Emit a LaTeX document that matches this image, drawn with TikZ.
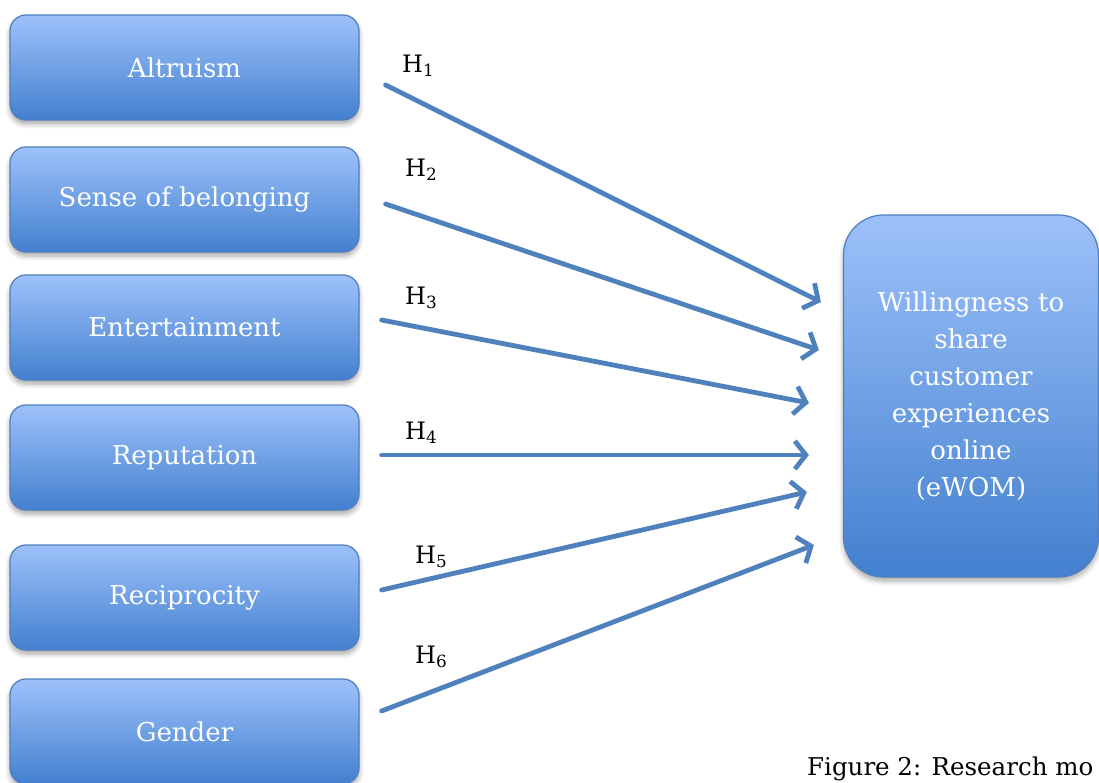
\documentclass[tikz,border=0pt]{standalone}
\usepackage{fontspec}
\setmainfont{DejaVu Serif}
\usetikzlibrary{arrows.meta,shadows.blur,calc}
\definecolor{btop}{HTML}{9DC1FA}
\definecolor{bmid}{HTML}{86ADEE}
\definecolor{bbot}{HTML}{4380CF}
\definecolor{bline}{HTML}{4F7FBE}
\definecolor{arrc}{HTML}{4F81BD}
\tikzset{
  factor/.style={rounded corners=16pt, draw=bline, line width=1.2pt,
    top color=btop, middle color=bmid, bottom color=bbot,
    minimum width=349pt, minimum height=105pt, text=white,
    font=\fontsize{26}{30}\selectfont,
    blur shadow={shadow xshift=0pt, shadow yshift=-4pt, shadow blur steps=6, shadow blur radius=5pt, shadow opacity=35}},
  outcome/.style={factor, rounded corners=40pt, minimum width=255pt, minimum height=362pt,
    text width=240pt, align=center, font=\fontsize{26}{37}\selectfont},
  hyp/.style={anchor=west, font=\fontsize{24}{28}\selectfont, inner sep=0pt},
  arr/.style={draw=arrc, line width=4.8pt, line cap=round, -{Straight Barb[length=11pt,width=28pt,line width=4.8pt]}},
}
\begin{document}
\begin{tikzpicture}[x=1pt,y=-1pt]
\useasboundingbox (0,0) rectangle (1099,783);
\clip (0,0) rectangle (1099,783);
\node[factor] (alt) at (184.5,67.5) {Altruism};
\node[factor] (sob) at (184.5,199.5) {Sense of belonging};
\node[factor] (ent) at (184.5,327.5) {Entertainment};
\node[factor] (rep) at (184.5,457.5) {Reputation};
\node[factor] (rec) at (184.5,597.5) {Reciprocity};
\node[factor] (gen) at (184.5,731.5) {Gender};
\node[outcome] (w) at (971,396) {Willingness to\\share\\customer\\experiences\\online\\(eWOM)};

\draw[arr] ($(alt.east)+(26,17.5)$) -- ($(w.west)+(-22,-94)$);
\draw[arr] ($(sob.east)+(26,4.5)$) -- ($(w.west)+(-24,-46)$);
\draw[arr] ($(ent.east)+(22,-7.5)$) -- ($(w.west)+(-34,7)$);
\draw[arr] ($(rep.east)+(22,-2.5)$) -- ($(w.west)+(-34,59)$);
\draw[arr] ($(rec.east)+(22,-7.5)$) -- ($(w.west)+(-36,96)$);
\draw[arr] ($(gen.east)+(22,-20.5)$) -- ($(w.west)+(-29,149)$);

\node[hyp] (h1) at (402,66) {H\textsubscript{1}};
\node[hyp] (h2) at (405,170) {H\textsubscript{2}};
\node[hyp] (h3) at (405,298) {H\textsubscript{3}};
\node[hyp] (h4) at (405,433) {H\textsubscript{4}};
\node[hyp] (h5) at (415,557) {H\textsubscript{5}};
\node[hyp] (h6) at (415,657) {H\textsubscript{6}};

\node[anchor=base west, inner sep=0pt, font=\fontsize{24.5}{28}\selectfont] (cap) at (807,775) {Figure 2: Research mo};
\end{tikzpicture}
\end{document}
